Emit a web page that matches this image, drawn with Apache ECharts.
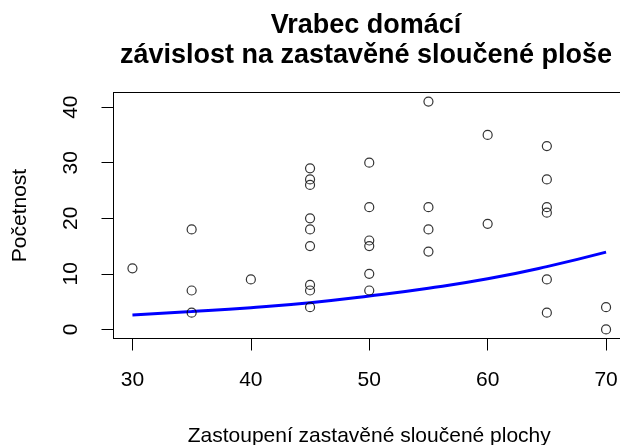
<!DOCTYPE html>
<html>
<head>
<meta charset="utf-8">
<script src="https://cdn.jsdelivr.net/npm/echarts@6/dist/echarts.min.js"></script>
<style>
  html, body { margin: 0; padding: 0; background: #fff; }
  #chart { width: 620px; height: 445px; }
</style>
</head>
<body>
<div id="chart"></div>
<script>
// pozorování: zastoupení plochy (x) a početnost (y)
const pointX = [30, 35, 35, 35, 40,
  45, 45, 45, 45, 45, 45, 45, 45, 45,
  50, 50, 50, 50, 50, 50,
  55, 55, 55, 55,
  60, 60,
  65, 65, 65, 65, 65, 65,
  70, 70]
const pointY = [11, 18, 7, 3, 9,
  29, 27, 26, 20, 18, 15, 8, 7, 4,
  30, 22, 16, 15, 10, 7,
  41, 22, 18, 14,
  35, 19,
  33, 27, 22, 21, 9, 3,
  4, 0]

// proložená křivka
const fitX = [30, 35, 40, 45, 50, 55, 60, 65, 70]
const fitY = [2.6, 3.2, 3.9, 4.8, 6.0, 7.4, 9.1, 11.3, 13.9]

const xTicks = [30, 40, 50, 60, 70]
const yTicks = [0, 10, 20, 30, 40]

const font = 'Liberation Sans, Arial, sans-serif'

const chart = echarts.init(document.getElementById('chart'))

chart.setOption({
  animation: false,
  backgroundColor: '#fff',
  title: {
    text: 'Vrabec domácí\nzávislost na zastavěné sloučené ploše',
    left: 361,
    top: 6,
    textAlign: 'center',
    textStyle: { fontFamily: font, fontSize: 27, fontWeight: 'bold', color: '#000', lineHeight: 30 }
  },
  grid: {
    left: 113.5,
    top: 92.5,
    right: -5,
    bottom: 106.5,
    show: true,
    borderColor: '#000',
    borderWidth: 1,
    outerBoundsMode: 'none'
  },
  xAxis: {
    type: 'value',
    min: 28.4,
    max: 71.6,
    splitLine: { show: false },
    axisLine: { show: true, onZero: false, lineStyle: { color: '#000', width: 1 } },
    axisTick: { show: true, length: 12, lineStyle: { color: '#000' }, customValues: xTicks },
    axisLabel: { margin: 31, fontFamily: font, fontSize: 21, color: '#000', customValues: xTicks },
    name: 'Zastoupení zastavěné sloučené plochy',
    nameLocation: 'middle',
    nameGap: 87,
    nameTextStyle: { fontFamily: font, fontSize: 21, color: '#000' }
  },
  yAxis: {
    type: 'value',
    min: -1.64,
    max: 42.64,
    splitLine: { show: false },
    axisLine: { show: true, onZero: false, lineStyle: { color: '#000', width: 1 } },
    axisTick: { show: true, length: 12, lineStyle: { color: '#000' }, customValues: yTicks },
    axisLabel: { margin: 32, rotate: 90, fontFamily: font, fontSize: 21, color: '#000', customValues: yTicks },
    name: 'Početnost',
    nameLocation: 'middle',
    nameRotate: 90,
    nameGap: 83,
    nameTextStyle: { fontFamily: font, fontSize: 21, color: '#000' }
  },
  series: [
    {
      type: 'line',
      data: fitX.map((x, i) => [x, fitY[i]]),
      smooth: true,
      showSymbol: false,
      lineStyle: { color: '#0000ff', width: 3 },
      z: 1
    },
    {
      type: 'scatter',
      data: pointX.map((x, i) => [x, pointY[i]]),
      symbol: 'circle',
      symbolSize: 9,
      itemStyle: { color: 'rgba(0,0,0,0)', borderColor: '#000', borderWidth: 1.2 },
      z: 2
    }
  ]
})
</script>
</body>
</html>
